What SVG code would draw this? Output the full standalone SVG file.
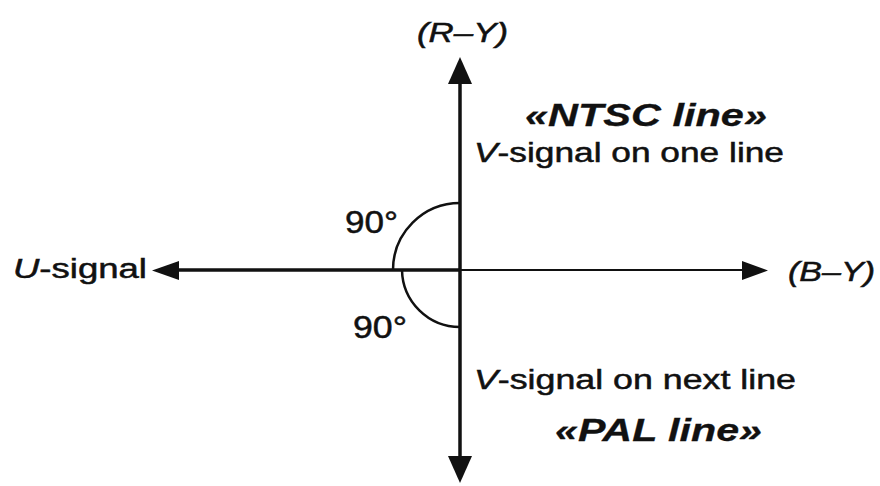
<svg xmlns="http://www.w3.org/2000/svg" width="880" height="486" viewBox="0 0 880 486">
<style>
text{font-family:"Liberation Sans",Arial,sans-serif;fill:#111;stroke:#111;stroke-width:0.5}
.l{font-size:27px}
.d{font-size:31px}
.b{font-size:32px;font-weight:bold;font-style:italic;stroke-width:0.3}
.i{font-style:italic}
.ax{stroke:#111;fill:none}
.hd{fill:#111}
</style>
<rect width="880" height="486" fill="#fff"/>
<g id="connectors">
<line class="ax" x1="460" y1="270" x2="460" y2="82" stroke-width="3.5"/>
<path class="hd" d="M448,84 L460,57 L472,84 Z"/>
<line class="ax" x1="460" y1="270" x2="460" y2="458" stroke-width="3.5"/>
<path class="hd" d="M448,456 L472,456 L460,483 Z"/>
<line class="ax" x1="460" y1="270" x2="176" y2="270" stroke-width="3.3"/>
<path class="hd" d="M179,261 L179,280 L152,270.5 Z"/>
<line class="ax" x1="460" y1="270" x2="745" y2="270" stroke-width="2"/>
<path class="hd" d="M742,261 L742,280 L768,270.5 Z"/>
<path class="ax" d="M460,203 A67,67 0 0 0 393,270" stroke-width="2.5"/>
<path class="ax" d="M402,270 A58,58 0 0 0 460,327" stroke-width="2.5"/>
</g>
<g id="labels">
<text class="l i" x="417" y="42" textLength="91" lengthAdjust="spacingAndGlyphs">(R–Y)</text>
<text class="b" x="525" y="126" textLength="242" lengthAdjust="spacingAndGlyphs">«NTSC line»</text>
<text class="l" x="474" y="162" textLength="310" lengthAdjust="spacingAndGlyphs"><tspan class="i">V</tspan>-signal on one line</text>
<text class="d" x="345" y="233" textLength="53" lengthAdjust="spacingAndGlyphs">90°</text>
<text class="l" x="13" y="278" textLength="134" lengthAdjust="spacingAndGlyphs"><tspan class="i">U</tspan>-signal</text>
<text class="l i" x="788" y="281" textLength="87" lengthAdjust="spacingAndGlyphs">(B–Y)</text>
<text class="d" x="353" y="338" textLength="54" lengthAdjust="spacingAndGlyphs">90°</text>
<text class="l" x="474" y="389" textLength="322" lengthAdjust="spacingAndGlyphs"><tspan class="i">V</tspan>-signal on next line</text>
<text class="b" x="555" y="441" textLength="207" lengthAdjust="spacingAndGlyphs">«PAL line»</text>
</g>
</svg>
